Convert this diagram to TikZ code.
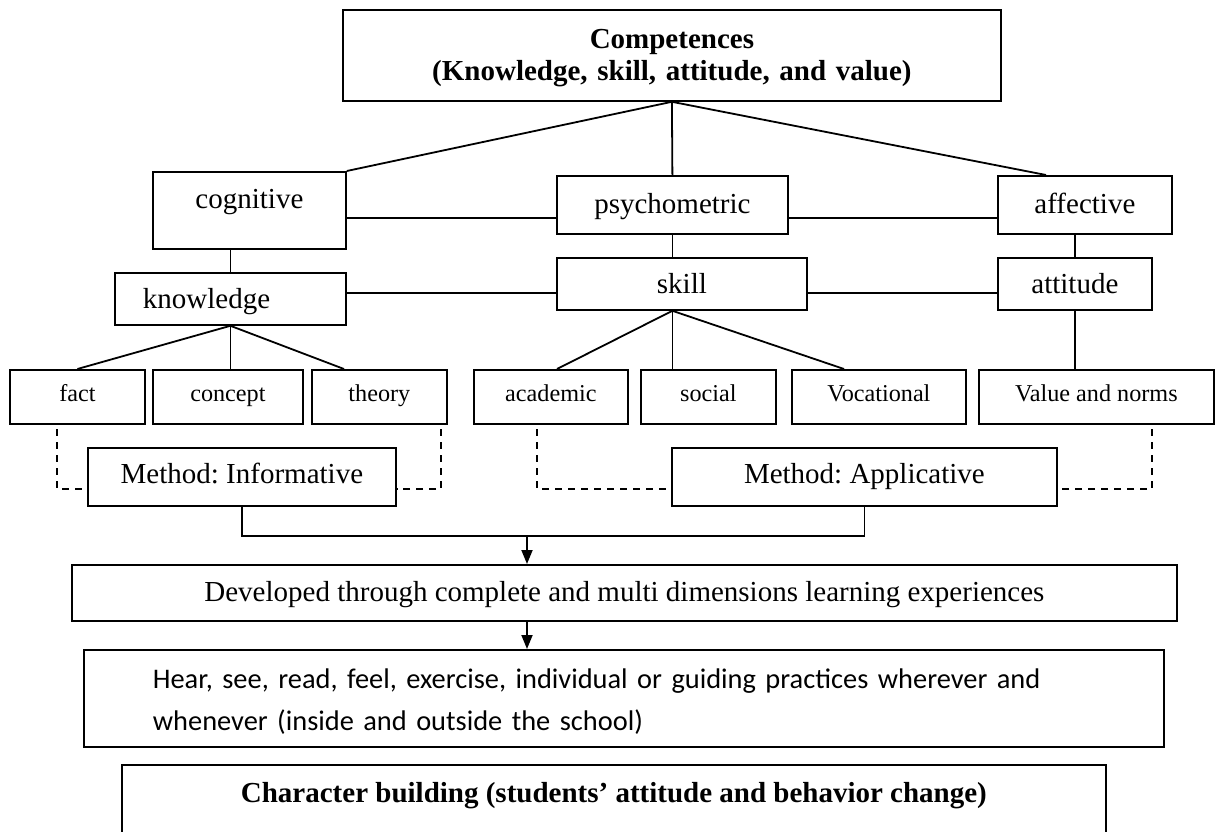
\documentclass[tikz,border=0pt]{standalone}
\usepackage{fontspec}
\setmainfont{Liberation Serif}
\newfontfamily\calibfont{Carlito}
\usetikzlibrary{arrows.meta}
\frenchspacing
\begin{document}
\begin{tikzpicture}[x=1pt,y=-1pt,
  box/.style={draw, line width=1.8pt, inner sep=0pt, rectangle, anchor=north west},
  big/.style={font=\frenchspacing\fontsize{29}{32}\selectfont},
  bigb/.style={font=\frenchspacing\bfseries\fontsize{29}{32}\selectfont},
  small/.style={font=\frenchspacing\fontsize{24.2}{28}\selectfont},
  calib/.style={font=\frenchspacing\calibfont\fontsize{28.4}{42}\selectfont},
  mid/.style={text height=36pt, text depth=16pt},
  leaf/.style={box, small, text height=32pt, text depth=22pt},
  conn/.style={line width=1.8pt},
  dsh/.style={line width=1.6pt, dash pattern=on 7pt off 6pt},
  arr/.style={line width=1.8pt, -{Triangle[width=11pt,length=14pt]}}]
\clip (0,0) rectangle (1216,832);
\fill[white] (0,0) rectangle (1216,832);

% top level
\node[box, bigb, minimum width=658pt, text width=658pt, align=center,
      text height=39pt, text depth=52pt] (top) at (342,9)
      {Competences\\(Knowledge, skill, attitude, and value)};

% domains
\node[box, big, minimum width=193pt, text height=37pt, text depth=40pt] (cog) at (152,171) {cognitive};
\node[box, big, minimum width=231pt, text height=38pt, text depth=20pt] (psy) at (556,175) {psychometric};
\node[box, big, minimum width=174pt, text height=38pt, text depth=20pt] (aff) at (997,175) {affective};

% second level
\node[box, big, mid, minimum width=231pt, text width=175pt, inner xsep=28pt, align=left] (know) at (114,272) {knowledge};
\node[box, big, mid, minimum width=250pt] (skill) at (556,257) {skill};
\node[box, big, mid, minimum width=154pt] (att) at (997,257) {attitude};

% leaves
\node[leaf, minimum width=135pt] (fact) at (9,369) {fact};
\node[leaf, minimum width=150pt] (concept) at (152,369) {concept};
\node[leaf, minimum width=135pt] (theory) at (311,369) {theory};
\node[leaf, minimum width=154pt] (academic) at (473,369) {academic};
\node[leaf, minimum width=135pt] (social) at (640,369) {social};
\node[leaf, minimum width=174pt] (voc) at (791,369) {Vocational};
\node[leaf, minimum width=235pt] (value) at (978,369) {Value and norms};

% methods
\node[box, big, minimum width=308pt, text height=36pt, text depth=22pt] (inf) at (87,447) {Method: Informative};
\node[box, big, minimum width=385pt, text height=36pt, text depth=22pt] (app) at (671,447) {Method: Applicative};

% lower boxes
\node[box, big, minimum width=1105pt, text height=37pt, text depth=19pt] (dev) at (71,564)
  {Developed through complete and multi dimensions learning experiences};
\node[box, calib, minimum width=1080pt, text width=942pt, inner xsep=69pt, align=left,
      text height=39pt, text depth=58pt] (hear) at (83,649)
  {Hear, see, read, feel, exercise, individual or guiding practices wherever and\\whenever (inside and outside the school)};
\node[box, bigb, minimum width=984pt, text height=38pt, text depth=118pt] (char) at (121,764)
  {Character building (students’ attitude and behavior change)};

% helper coordinates
\coordinate (r218) at (0,218);
\coordinate (r293) at (0,293);
\coordinate (r489) at (0,489);
\coordinate (r536) at (0,536);
\coordinate (affIn) at (1046,175);
\coordinate (theoryIn) at (344,369);
\coordinate (academicIn) at (557,369);
\coordinate (vocIn) at (844,369);
\coordinate (dA) at (57,429);
\coordinate (dB) at (441,429);
\coordinate (dC) at (537,429);
\coordinate (dD) at (1152,429);
\coordinate (j) at (527,536);

% connectors from the top
\draw[conn] (top.south) -- (cog.north east);
\draw[conn] (top.south) -- (psy.north);
\draw[conn] (top.south) -- (affIn);

% horizontal links
\draw[conn] (cog.east |- r218) -- (psy.west |- r218);
\draw[conn] (psy.east |- r218) -- (aff.west |- r218);
\draw[conn] (know.east |- r293) -- (skill.west |- r293);
\draw[conn] (skill.east |- r293) -- (att.west |- r293);

% verticals
\draw[conn] (know.north) -- (know.north |- cog.south);
\draw[conn] (psy.south) -- (psy.south |- skill.north);
\draw[conn] (att.north) -- (att.north |- aff.south);
\draw[conn] (att.south) -- (att.south |- value.north);

% knowledge children
\draw[conn] (fact.north) -- (know.south) -- (theoryIn);
\draw[conn] (know.south) -- (know.south |- concept.north);

% skill children
\coordinate (skj) at (psy.south |- skill.south);
\draw[conn] (academicIn) -- (skj) -- (vocIn);
\draw[conn] (skj) -- (skj |- social.north);

% dashed method links
\draw[dsh] (dA) -- (dA |- r489) -- (inf.west |- r489);
\draw[dsh] (dB) -- (dB |- r489) -- (inf.east |- r489);
\draw[dsh] (dC) -- (dC |- r489) -- (app.west |- r489);
\draw[dsh] (dD) -- (dD |- r489) -- (app.east |- r489);

% method merge and arrows
\draw[conn] (inf.south) -- (inf.south |- r536) -- (app.south |- r536) -- (app.south);
\draw[arr] (j) -- (j |- dev.north);
\draw[arr] (dev.south -| j) -- (hear.north -| j);
\end{tikzpicture}
\end{document}
